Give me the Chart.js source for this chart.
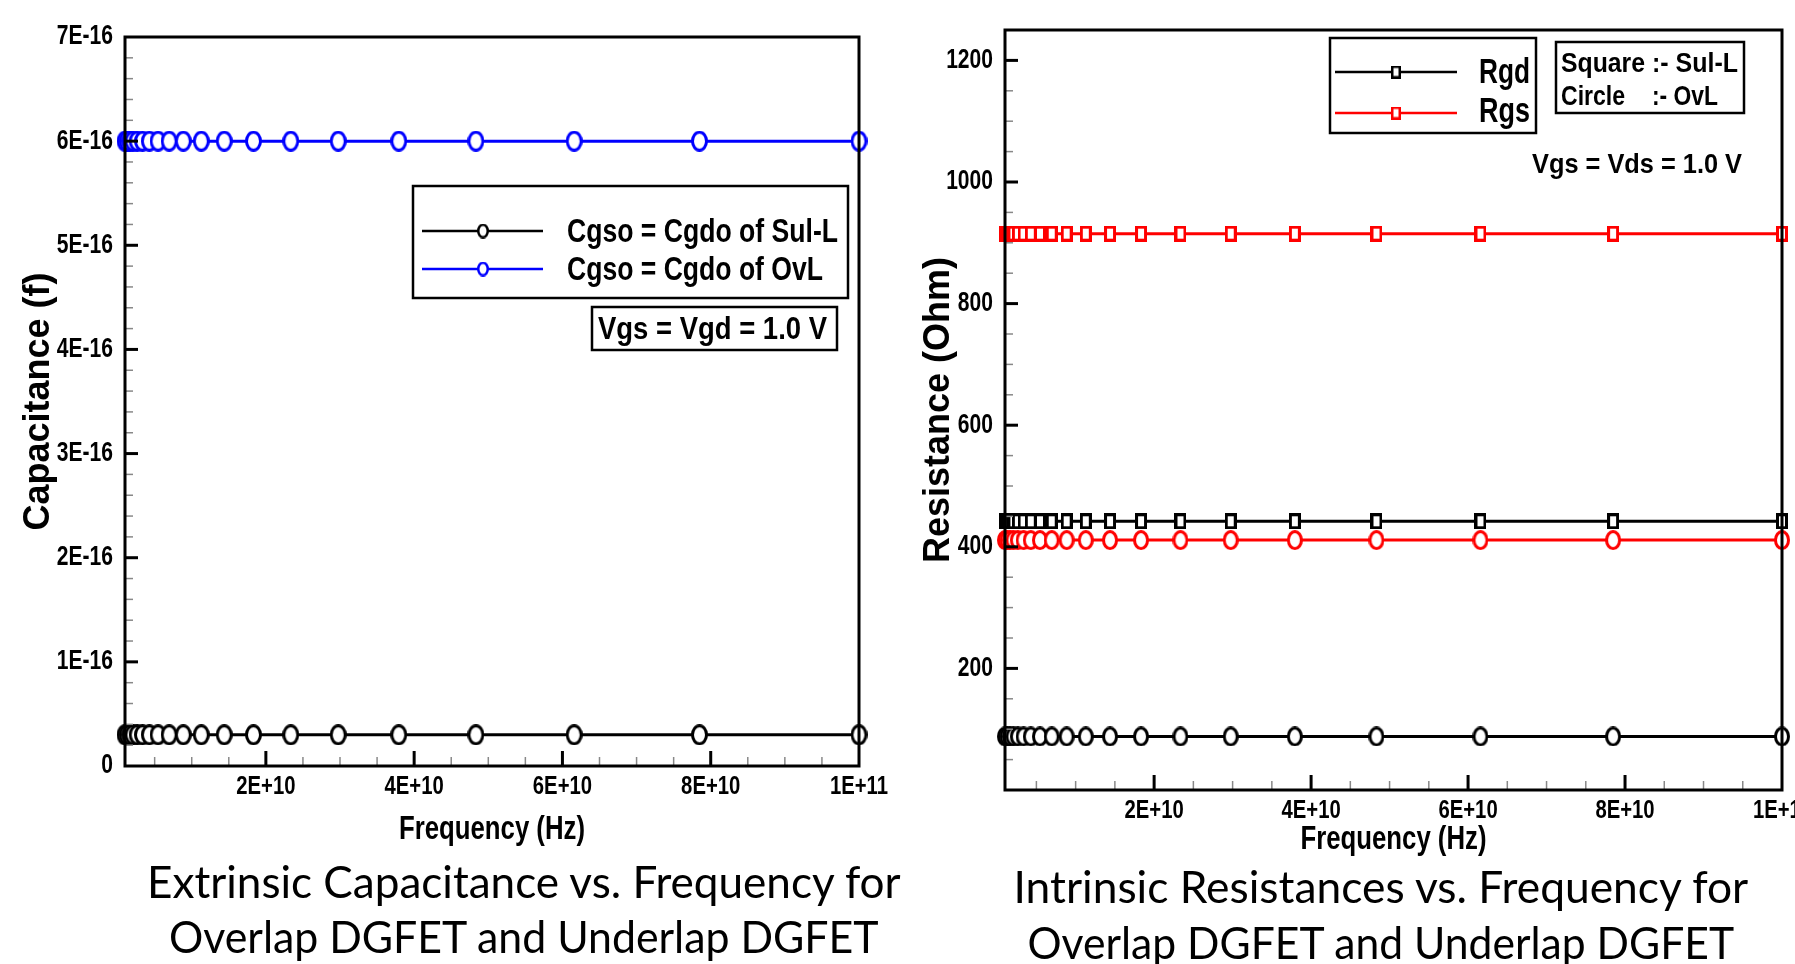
<!DOCTYPE html>
<html><head><meta charset="utf-8">
<script src="https://cdn.jsdelivr.net/npm/chart.js@4.4.1/dist/chart.umd.min.js"></script>
<style>
html,body{margin:0;padding:0;background:#fff;overflow:hidden;width:1795px;height:964px;position:relative}
canvas{position:absolute}
#c1{left:0;top:0}
#c2{left:900px;top:0}
.cap{position:absolute;font-family:Lato,'Open Sans',sans-serif;font-size:45px;line-height:45px;white-space:nowrap;color:#000;transform-origin:center top;z-index:5}
</style></head><body>
<canvas id="c1" width="900" height="860"></canvas>
<canvas id="c2" width="930" height="880"></canvas>
<div class="cap" id="t1a">Extrinsic Capacitance vs. Frequency for</div>
<div class="cap" id="t1b">Overlap DGFET and Underlap DGFET</div>
<div class="cap" id="t2a">Intrinsic Resistances vs. Frequency for</div>
<div class="cap" id="t2b">Overlap DGFET and Underlap DGFET</div>
<script>
// ---------------- DATA ----------------
const frequencyHz = [1.000e9, 1.274e9, 1.624e9, 2.069e9, 2.637e9, 3.360e9, 4.281e9, 5.456e9, 6.952e9, 8.859e9,
                     1.129e10, 1.438e10, 1.833e10, 2.336e10, 2.976e10, 3.793e10, 4.833e10, 6.158e10, 7.848e10, 1.000e11];
const cgsoSulL = [3.0e-17,3.0e-17,3.0e-17,3.0e-17,3.0e-17,3.0e-17,3.0e-17,3.0e-17,3.0e-17,3.0e-17,
                  3.0e-17,3.0e-17,3.0e-17,3.0e-17,3.0e-17,3.0e-17,3.0e-17,3.0e-17,3.0e-17,3.0e-17];
const cgsoOvL = [6.0e-16,6.0e-16,6.0e-16,6.0e-16,6.0e-16,6.0e-16,6.0e-16,6.0e-16,6.0e-16,6.0e-16,
                 6.0e-16,6.0e-16,6.0e-16,6.0e-16,6.0e-16,6.0e-16,6.0e-16,6.0e-16,6.0e-16,6.0e-16];
const rgdSulL = [442,442,442,442,442,442,442,442,442,442,442,442,442,442,442,442,442,442,442,442];
const rgsSulL = [915,915,915,915,915,915,915,915,915,915,915,915,915,915,915,915,915,915,915,915];
const rgdOvL  = [88,88,88,88,88,88,88,88,88,88,88,88,88,88,88,88,88,88,88,88];
const rgsOvL  = [411,411,411,411,411,411,411,411,411,411,411,411,411,411,411,411,411,411,411,411];

const xTickValues = [2e10, 4e10, 6e10, 8e10, 1e11];
const xTickLabels = ['2E+10', '4E+10', '6E+10', '8E+10', '1E+11'];
const capYTickValues = [0, 1e-16, 2e-16, 3e-16, 4e-16, 5e-16, 6e-16, 7e-16];
const capYTickLabels = ['0', '1E-16', '2E-16', '3E-16', '4E-16', '5E-16', '6E-16', '7E-16'];
const resYTickValues = [200, 400, 600, 800, 1000, 1200];
const resYTickLabels = ['200', '400', '600', '800', '1000', '1200'];

// ---------------- STYLE HELPERS ----------------
// 'CondensedTick' is only a tag: text drawn with it is squeezed to a narrow (Helvetica Narrow-like) width
const narrow = "'CondensedTick','Liberation Sans',Arial,sans-serif";
const wide = "'Liberation Sans',Arial,sans-serif";
const SQUEEZE = 0.78;

function condense(ctx) {
  const orig = ctx.fillText;
  ctx.fillText = function(t, x, y, mw) {
    if (this.font.indexOf('CondensedTick') >= 0) {
      this.save(); this.translate(x, y); this.scale(SQUEEZE, 1); orig.call(this, t, 0, 0); this.restore();
    } else if (mw !== undefined) orig.call(this, t, x, y, mw);
    else orig.call(this, t, x, y);
  };
  return ctx;
}

function marker(shape, w, h, color, lw) {
  const c = document.createElement('canvas'); c.width = w; c.height = h;
  const g = c.getContext('2d');
  g.fillStyle = '#fff'; g.strokeStyle = color; g.lineWidth = lw;
  if (shape === 'ellipse') {
    g.beginPath(); g.ellipse(w/2, h/2, w/2 - lw/2, h/2 - lw/2, 0, 0, Math.PI*2); g.fill(); g.stroke();
  } else {
    g.fillRect(lw/2, lw/2, w - lw, h - lw); g.strokeRect(lw/2, lw/2, w - lw, h - lw);
  }
  return c;
}

function pts(ys) { return frequencyHz.map((f, i) => ({x: f, y: ys[i]})); }

function ds(label, ys, color, mk) {
  return {label, data: pts(ys), borderColor: color, backgroundColor: '#fff', borderWidth: 3,
          pointStyle: mk, pointRadius: 8, clip: false, tension: 0};
}

function xScale(min, max, height, pad) {
  return {
    type: 'linear', min, max,
    grid: {display: false, drawTicks: false}, border: {display: false},
    afterBuildTicks: s => { s.ticks = xTickValues.map(v => ({value: v})); },
    ticks: {callback: (v, i) => xTickLabels[i], font: {family: narrow, size: 26, weight: 'bold'},
            color: '#000', padding: pad, maxRotation: 0, autoSkip: false},
    title: {display: true, text: 'Frequency (Hz)', font: {family: narrow, size: 33, weight: 'bold'},
            color: '#000', padding: 0},
    afterFit: s => { s.height = height; s.paddingLeft = 0; s.paddingRight = 0; }
  };
}
function yScale(min, max, vals, labels, title, width) {
  return {
    type: 'linear', min, max,
    grid: {display: false, drawTicks: false}, border: {display: false},
    afterBuildTicks: s => { s.ticks = vals.map(v => ({value: v})); },
    ticks: {callback: (v, i) => labels[i], font: {family: narrow, size: 27, weight: 'bold'},
            color: '#000', padding: 12, autoSkip: false},
    title: {display: true, text: title, font: {family: wide, size: 36, weight: 'bold'},
            color: '#000', padding: {top: 17, bottom: 0}},
    afterFit: s => { s.width = width; s.paddingTop = 0; s.paddingBottom = 0; }
  };
}

function fitText(ctx, text, x, base, width, cap, align) {
  const size = cap / 0.716;
  ctx.save();
  ctx.font = `bold ${size}px ${wide}`;
  const m = ctx.measureText(text).width;
  const sx = width / m;
  const left = align === 'right' ? x - width : x;
  ctx.translate(left, base); ctx.scale(sx, 1);
  ctx.textAlign = 'left'; ctx.textBaseline = 'alphabetic'; ctx.fillStyle = '#000';
  ctx.fillText(text, 0, 0);
  ctx.restore();
}

// frame + inward ticks, drawn from the scales
const framePlugin = {
  id: 'frame',
  afterDatasetsDraw(chart, args, o) {
    const {ctx, chartArea: a, scales: {x, y}} = chart;
    ctx.save();
    const tick = (px, py, dx, dy, lw, col) => { ctx.strokeStyle = col; ctx.lineWidth = lw; ctx.beginPath(); ctx.moveTo(px, py); ctx.lineTo(px + dx, py + dy); ctx.stroke(); };
    for (let v = o.xMinorStep; v < x.max; v += o.xMinorStep) {
      const px = x.getPixelForValue(v);
      if (px <= a.left + 1) continue;
      const major = Math.abs(v / o.xMajorStep - Math.round(v / o.xMajorStep)) < 1e-6;
      if (major) tick(px, a.bottom, 0, -15, 3, '#000'); else tick(px, a.bottom, 0, -9, 1.5, '#888');
    }
    for (let k = 1; y.min + k * o.yMinorStep < y.max - 1e-9 * o.yMinorStep; k++) {
      const v = y.min + k * o.yMinorStep;
      const py = y.getPixelForValue(v);
      const major = k % o.yMinorPerMajor === 0;
      if (major) tick(a.left, py, 13, 0, 3, '#000'); else tick(a.left, py, 8, 0, 1.5, '#888');
    }
    ctx.strokeStyle = '#000'; ctx.lineWidth = 3;
    ctx.strokeRect(a.left, a.top, a.right - a.left, a.bottom - a.top);
    ctx.restore();
  },
  afterDraw(chart, args, o) {
    if (o.legend) o.legend(chart.ctx, chart);
  }
};
Chart.register(framePlugin);

// ---------------- LEFT CHART ----------------
const blkC = marker('ellipse', 17, 21, '#000', 3);
const bluC = marker('ellipse', 17, 21, '#0000ff', 3);
const legBlkC = marker('ellipse', 12, 15, '#000', 2.5);
const legBluC = marker('ellipse', 12, 15, '#0000ff', 2.5);

new Chart(condense(document.getElementById('c1').getContext('2d')), {
  type: 'line',
  data: {datasets: [
    ds('Cgso = Cgdo of Sul-L', cgsoSulL, '#000', blkC),
    ds('Cgso = Cgdo of OvL', cgsoOvL, '#0000ff', bluC)
  ]},
  options: {
    responsive: false, animation: false, events: [],
    layout: {padding: {left: 0, top: 37, right: 41, bottom: 10}},
    scales: {x: xScale(1e9, 1e11, 84, 5), y: yScale(0, 7e-16, capYTickValues, capYTickLabels, 'Capacitance (f)', 125)},
    plugins: {legend: {display: false}, tooltip: {enabled: false},
      frame: {xMinorStep: 0.5e10, xMajorStep: 2e10, yMinorStep: 0.2e-16, yMinorPerMajor: 5,
        legend: (ctx, chart) => {
          const d = chart.data.datasets;
          ctx.save();
          ctx.strokeStyle = '#000'; ctx.lineWidth = 2.5;
          ctx.strokeRect(413, 186, 435, 112);
          const rows = [{y: 231, base: 242, w: 271, mk: legBlkC}, {y: 269, base: 280, w: 256, mk: legBluC}];
          rows.forEach((r, i) => {
            ctx.strokeStyle = d[i].borderColor; ctx.lineWidth = 2.5;
            ctx.beginPath(); ctx.moveTo(422, r.y); ctx.lineTo(543, r.y); ctx.stroke();
            ctx.drawImage(r.mk, 483 - r.mk.width/2, r.y - r.mk.height/2);
            fitText(ctx, d[i].label, 567, r.base, r.w, 24);
          });
          ctx.strokeStyle = '#000'; ctx.lineWidth = 2.5;
          ctx.strokeRect(592, 307, 245, 43);
          fitText(ctx, 'Vgs = Vgd = 1.0 V', 598, 339, 229, 23);
          ctx.restore();
        }}}
  }
});

// ---------------- RIGHT CHART ----------------
const blkS = marker('rect', 12, 16, '#000', 3);
const redS = marker('rect', 12, 16, '#ff0000', 3);
const blkO = marker('ellipse', 16, 20, '#000', 3);
const redO = marker('ellipse', 16, 20, '#ff0000', 3);
const legBlkS = marker('rect', 10, 13, '#000', 2.5);
const legRedS = marker('rect', 10, 13, '#ff0000', 2.5);
const OX = 900;

new Chart(condense(document.getElementById('c2').getContext('2d')), {
  type: 'line',
  data: {datasets: [
    ds('Rgd', rgdSulL, '#000', blkS),
    ds('Rgs', rgsSulL, '#ff0000', redS),
    ds('Rgd (OvL)', rgdOvL, '#000', blkO),
    ds('Rgs (OvL)', rgsOvL, '#ff0000', redO)
  ]},
  options: {
    responsive: false, animation: false, events: [],
    layout: {padding: {left: 0, top: 30, right: 48, bottom: 20}},
    scales: {x: xScale(1e9, 1e11, 70, 5), y: yScale(0, 1250, resYTickValues, resYTickLabels, 'Resistance (Ohm)', 105)},
    plugins: {legend: {display: false}, tooltip: {enabled: false},
      frame: {xMinorStep: 0.5e10, xMajorStep: 2e10, yMinorStep: 50, yMinorPerMajor: 4,
        legend: (ctx, chart) => {
          const d = chart.data.datasets;
          ctx.save();
          ctx.translate(-OX, 0);
          ctx.strokeStyle = '#000'; ctx.lineWidth = 2.5;
          ctx.strokeRect(1330, 38, 206, 95);
          const rows = [{y: 72, base: 83, mk: legBlkS}, {y: 113, base: 122, mk: legRedS}];
          rows.forEach((r, i) => {
            ctx.strokeStyle = d[i].borderColor; ctx.lineWidth = 2.5;
            ctx.beginPath(); ctx.moveTo(1335, r.y); ctx.lineTo(1457, r.y); ctx.stroke();
            ctx.drawImage(r.mk, 1396 - r.mk.width/2, r.y - r.mk.height/2);
            fitText(ctx, d[i].label, 1530, r.base, 51, 25, 'right');
          });
          ctx.strokeStyle = '#000'; ctx.lineWidth = 2.5;
          ctx.strokeRect(1556, 42, 188, 71);
          fitText(ctx, 'Square', 1561, 72, 84, 20);
          fitText(ctx, ':- Sul-L', 1652, 72, 86, 20);
          fitText(ctx, 'Circle', 1561, 105, 64, 20);
          fitText(ctx, ':- OvL', 1652, 105, 66, 20);
          fitText(ctx, 'Vgs = Vds = 1.0 V', 1532, 173, 210, 20);
          ctx.restore();
        }}}
  }
});

// ---------------- CAPTIONS ----------------
function placeCap(id, cx, top, w) {
  const el = document.getElementById(id);
  const ow = el.offsetWidth;
  el.style.left = (cx - ow / 2) + 'px';
  el.style.top = top + 'px';
  el.style.transform = `scaleX(${w / ow})`;
}
placeCap('t1a', 524, 859, 754);
placeCap('t1b', 524, 914, 710);
placeCap('t2a', 1381, 864, 735);
placeCap('t2b', 1381, 920, 707);
</script>
</body></html>
